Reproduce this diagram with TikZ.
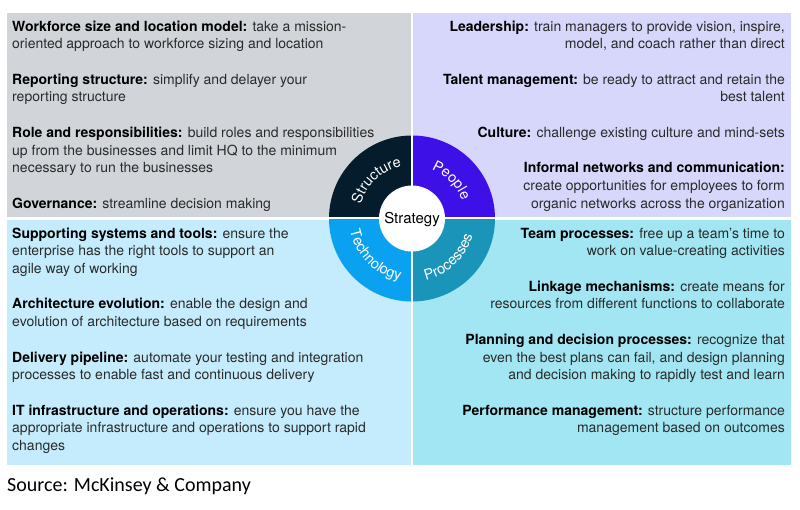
\documentclass[tikz,border=0pt]{standalone}
\usepackage{fontspec}
\setmainfont{TeX Gyre Heros}
\newfontfamily\srcfont{Carlito}
\definecolor{pGray}{HTML}{D1D5DA}
\definecolor{pLav}{HTML}{D6D7FA}
\definecolor{pSky}{HTML}{C5ECFC}
\definecolor{pCyan}{HTML}{A1E6F2}
\definecolor{cStruct}{HTML}{051C2C}
\definecolor{cPeople}{HTML}{3C10E6}
\definecolor{cTech}{HTML}{0AA2F0}
\definecolor{cProc}{HTML}{1A94B8}
\definecolor{txt}{HTML}{2A2A2A}
\newcommand\hd[1]{{\bfseries\color{black}#1}}
\newcommand\ringfont{\fontsize{14.5}{17}\selectfont}
\def\ringsize{14.5}
\newcount\ltrcount
% letters of a word set along an arc round (c)
% #1 centre angle, #2 baseline radius, #3 direction (-1 clockwise, +1 anticlockwise), #4 letter/width(em) list
\newcommand\arcword[4]{%
  \gdef\awtot{0}%
  \foreach \ch/\w in {#4}{\pgfmathsetmacro\tmp{\awtot+\w*\ringsize}\global\let\awtot\tmp}%
  \gdef\awcum{0}%
  \foreach \ch/\w in {#4}{%
    \pgfmathsetmacro\wpt{\w*\ringsize}%
    \pgfmathsetmacro\th{#1+#3*(\awcum+\wpt/2-\awtot/2)/#2*57.29578}%
    \global\advance\ltrcount by 1
    \node[ringletter, rotate=\th+#3*90] (ltr\the\ltrcount) at ([shift={(\th:#2)}]c) {\ch};%
    \pgfmathsetmacro\tmp{\awcum+\wpt}\global\let\awcum\tmp
  }%
}
\begin{document}
\begin{tikzpicture}[x=1pt,y=1pt,
  txtL/.style={inner sep=0pt, anchor=north west, align=left, text=txt, font=\fontsize{14}{17.7}\selectfont},
  txtR/.style={inner sep=0pt, anchor=north east, align=right, text=txt, font=\fontsize{14}{17.7}\selectfont},
  ringletter/.style={inner sep=0pt, anchor=base, text=white, font=\ringfont}
]
\useasboundingbox (0,0) rectangle (800,509);
\fill[white] (0,0) rectangle (800,509);
% panels
\fill[pGray] (7,292) rectangle (411,496);
\fill[pLav] (413,292) rectangle (791,496);
\fill[pSky] (7,44) rectangle (411,289);
\fill[pCyan] (413,44) rectangle (791,289);
% top-left
\node[txtL] (tl1) at (12,490.4) {\strut\hd{Workforce size and location model:} take a mission-\\oriented approach to workforce sizing and location};
\node[txtL] (tl2) at (12,437.3) {\strut\hd{Reporting structure:} simplify and delayer your\\reporting structure};
\node[txtL] (tl3) at (12,384.2) {\strut\hd{Role and responsibilities:} build roles and responsibilities\\up from the businesses and limit HQ to the minimum\\necessary to run the businesses};
\node[txtL] (tl4) at (12,313.4) {\strut\hd{Governance:} streamline decision making};
% top-right
\node[txtR] (tr1) at (785,490.4) {\strut\hd{Leadership:} train managers to provide vision, inspire,\\model, and coach rather than direct};
\node[txtR] (tr2) at (785,437.3) {\strut\hd{Talent management:} be ready to attract and retain the\\best talent};
\node[txtR] (tr3) at (785,384.2) {\strut\hd{Culture:} challenge existing culture and mind-sets};
\node[txtR] (tr4) at (785,348.8) {\strut\hd{Informal networks and communication:}\\create opportunities for employees to form\\organic networks across the organization};
% bottom-left
\node[txtL] (bl1) at (12,283.4) {\strut\hd{Supporting systems and tools:} ensure the\\enterprise has the right tools to support an\\agile way of working};
\node[txtL] (bl2) at (12,212.6) {\strut\hd{Architecture evolution:} enable the design and\\evolution of architecture based on requirements};
\node[txtL] (bl3) at (12,159.5) {\strut\hd{Delivery pipeline:} automate your testing and integration\\processes to enable fast and continuous delivery};
\node[txtL] (bl4) at (12,106.4) {\strut\hd{IT infrastructure and operations:} ensure you have the\\appropriate infrastructure and operations to support rapid\\changes};
% bottom-right
\node[txtR] (br1) at (785,283.4) {\strut\hd{Team processes:} free up a team’s time to\\work on value-creating activities};
\node[txtR] (br2) at (785,230.3) {\strut\hd{Linkage mechanisms:} create means for\\resources from different functions to collaborate};
\node[txtR] (br3) at (785,177.2) {\strut\hd{Planning and decision processes:} recognize that\\even the best plans can fail, and design planning\\and decision making to rapidly test and learn};
\node[txtR] (br4) at (785,106.4) {\strut\hd{Performance management:} structure performance\\management based on outcomes};
% ring
\coordinate (c) at (412,290.5);
\fill[cStruct] (c) -- ([shift={(90:83)}]c) arc[start angle=90, end angle=180, radius=83] -- cycle;
\fill[cPeople] (c) -- ([shift={(0:83)}]c) arc[start angle=0, end angle=90, radius=83] -- cycle;
\fill[cTech] (c) -- ([shift={(180:83)}]c) arc[start angle=180, end angle=270, radius=83] -- cycle;
\fill[cProc] (c) -- ([shift={(270:83)}]c) arc[start angle=270, end angle=360, radius=83] -- cycle;
\draw[white, line width=2pt] ([shift={(0,-84)}]c) -- ([shift={(0,84)}]c);
\draw[white, line width=2pt] ([shift={(-84,0)}]c) -- ([shift={(84,0)}]c);
\fill[white] (c) circle[radius=33];
\node[font=\fontsize{15}{17}\selectfont, text=black] (strat) at ([yshift=-1.5]c) {Strategy};
\arcword{133}{53}{-1}{S/.667,t/.278,r/.333,u/.556,c/.5,t/.278,u/.556,r/.333,e/.556}
\arcword{44}{53}{-1}{P/.667,e/.556,o/.556,p/.556,l/.222,e/.556}
\arcword{225}{63}{1}{T/.611,e/.556,c/.5,h/.556,n/.556,o/.556,l/.222,o/.556,g/.556,y/.5}
\arcword{313.5}{63}{1}{P/.667,r/.333,o/.556,c/.5,e/.556,s/.5,s/.5,e/.556,s/.5}
% source
\node[inner sep=0pt, anchor=base west, font=\srcfont\fontsize{20}{24}\selectfont] (src) at (7,18) {Source: McKinsey \& Company};
\end{tikzpicture}
\end{document}
